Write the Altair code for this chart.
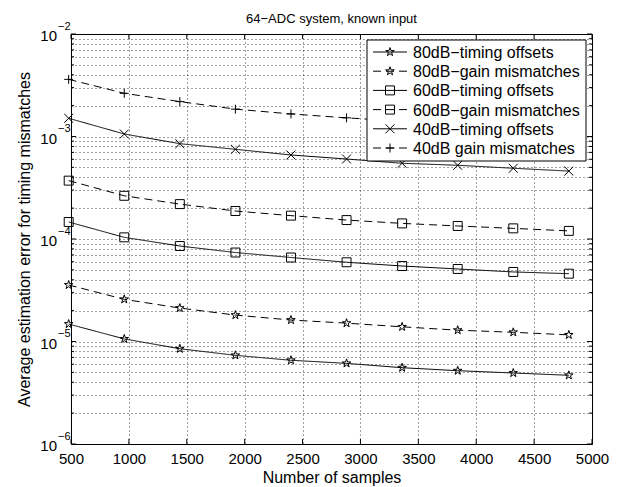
import altair as alt
import pandas as pd

# ---------------- data ----------------
x_samples = [480, 960, 1440, 1920, 2400, 2880, 3360, 3840, 4320, 4800]

names = [
    "80dB\u2212timing offsets",
    "80dB\u2212gain mismatches",
    "60dB\u2212timing offsets",
    "60dB\u2212gain mismatches",
    "40dB\u2212timing offsets",
    "40dB gain mismatches",
]

t80 = [1.48e-5, 1.06e-5, 8.5e-6, 7.33e-6, 6.56e-6, 6.12e-6, 5.55e-6, 5.19e-6, 4.93e-6, 4.68e-6]
g80 = [3.56e-5, 2.58e-5, 2.12e-5, 1.81e-5, 1.62e-5, 1.51e-5, 1.39e-5, 1.29e-5, 1.23e-5, 1.16e-5]
t60 = [1.465e-4, 1.038e-4, 8.54e-5, 7.38e-5, 6.6e-5, 5.93e-5, 5.45e-5, 5.1e-5, 4.77e-5, 4.59e-5]
g60 = [3.71e-4, 2.64e-4, 2.19e-4, 1.875e-4, 1.69e-4, 1.53e-4, 1.42e-4, 1.34e-4, 1.27e-4, 1.20e-4]
t40 = [1.506e-3, 1.058e-3, 8.51e-4, 7.5e-4, 6.6e-4, 6.03e-4, 5.48e-4, 5.24e-4, 4.9e-4, 4.6e-4]
g40 = [3.61e-3, 2.64e-3, 2.19e-3, 1.85e-3, 1.66e-3, 1.52e-3, 1.41e-3, 1.32e-3, 1.25e-3, 1.19e-3]
series_values = [t80, g80, t60, g60, t40, g40]

x_ticks = [500, 1000, 1500, 2000, 2500, 3000, 3500, 4000, 4500, 5000]
y_decades = [1e-6, 1e-5, 1e-4, 1e-3, 1e-2]
y_exponents = ["\u22126", "\u22125", "\u22124", "\u22123", "\u22122"]
y_minor = [m * d for d in [1e-6, 1e-5, 1e-4, 1e-3] for m in range(2, 10)]
y_grid = sorted(y_decades + y_minor)

title_text = "64\u2212ADC system, known input"
x_title = "Number of samples"
y_title = "Average estimation error for timing mismatches"

# ---------------- styling ----------------
FONT = "Liberation Sans"
STAR = ("M0,-1L0.2245,-0.309L0.951,-0.309L0.363,0.118L0.588,0.809L0,0.382"
        "L-0.588,0.809L-0.363,0.118L-0.951,-0.309L-0.2245,-0.309Z")
XMARK = "M-1,-1L1,1M-1,1L1,-1"
PLUS = "M-1,0L1,0M0,-1L0,1"
dash_range = [[1, 0], [8, 5], [1, 0], [8, 5], [1, 0], [8, 5]]
shape_range = [STAR, STAR, "square", "square", XMARK, PLUS]
size_range = [80, 80, 42, 42, 30, 70]

rows = []
for nm, vals in zip(names, series_values):
    for xi, v in zip(x_samples, vals):
        rows.append({"series": nm, "n": xi, "err": v})
df = pd.DataFrame(rows)

W, H = 521, 410
xscale = alt.Scale(domain=[500, 5000], nice=False, zero=False)
yscale = alt.Scale(type="log", domain=[1e-6, 1e-2], nice=False)

dash_enc = alt.StrokeDash("series:N", scale=alt.Scale(domain=names, range=dash_range), legend=None)
shape_enc = alt.Shape("series:N", scale=alt.Scale(domain=names, range=shape_range), legend=None)
size_enc = alt.Size("series:N", scale=alt.Scale(domain=names, range=size_range), legend=None)

X_AXIS = alt.X(
    "n:Q", scale=xscale,
    axis=alt.Axis(
        values=x_ticks, title=x_title, grid=True, gridDash=[1, 3], gridColor="#000000",
        gridOpacity=0.75, ticks=False, domain=False, labelFontSize=15, labelFont=FONT,
        labelColor="black", labelPadding=7, titleFont=FONT, titleFontSize=16,
        titleFontWeight="normal", titleColor="black", titleY=38, titleBaseline="alphabetic",
        labelFlush=False, labelOverlap=False, format="d",
    ),
)
Y_AXIS = alt.Y(
    "err:Q", scale=yscale,
    axis=alt.Axis(
        values=y_grid, title=y_title, grid=True, gridDash=[1, 3], gridColor="#000000",
        gridOpacity=0.75, ticks=False, labels=False, domain=False, titleFont=FONT,
        titleFontSize=16, titleFontWeight="normal", titleColor="black",
        titleX=-42, titleY=H / 2, titleAlign="center", titleBaseline="alphabetic",
    ),
)
Y_NOAXIS = alt.Y("err:Q", scale=yscale, axis=None)

lines = alt.Chart(df).mark_line(color="black", strokeWidth=1).encode(
    x=X_AXIS, y=Y_AXIS, strokeDash=dash_enc, detail="series:N"
)
points = alt.Chart(df).mark_point(filled=False, color="black", strokeWidth=1, opacity=1).encode(
    x=X_AXIS, y=Y_NOAXIS, shape=shape_enc, size=size_enc
)

# inner ticks (MATLAB box style)
xt = pd.DataFrame({"n": x_ticks})
xt_bottom = alt.Chart(xt).mark_rule(color="black").encode(x=X_AXIS, y=alt.value(H), y2=alt.value(H - 5))
xt_top = alt.Chart(xt).mark_rule(color="black").encode(x=X_AXIS, y=alt.value(0), y2=alt.value(5))
yd = pd.DataFrame({"err": y_decades, "exp": y_exponents, "base": ["10"] * len(y_decades)})
ym = pd.DataFrame({"err": y_minor})
yt_left = alt.Chart(yd).mark_rule(color="black").encode(y=Y_NOAXIS, x=alt.value(0), x2=alt.value(5))
yt_right = alt.Chart(yd).mark_rule(color="black").encode(y=Y_NOAXIS, x=alt.value(W), x2=alt.value(W - 5))
ym_left = alt.Chart(ym).mark_rule(color="black").encode(y=Y_NOAXIS, x=alt.value(0), x2=alt.value(3))
ym_right = alt.Chart(ym).mark_rule(color="black").encode(y=Y_NOAXIS, x=alt.value(W), x2=alt.value(W - 3))

# y tick labels 10^k
ylab_base = alt.Chart(yd).mark_text(align="right", baseline="middle", fontSize=15, font=FONT,
                                    color="black", dy=2).encode(
    y=Y_NOAXIS, x=alt.value(-14), text="base:N")
ylab_exp = alt.Chart(yd).mark_text(align="left", baseline="middle", fontSize=11, font=FONT,
                                   color="black", dy=-7.5).encode(
    y=Y_NOAXIS, x=alt.value(-13), text="exp:N")

# title as a text mark above the axes
title_df = pd.DataFrame({"t": [title_text]})
title_mark = alt.Chart(title_df).mark_text(
    align="center", baseline="alphabetic", fontSize=13, font=FONT, color="black"
).encode(x=alt.value(W / 2), y=alt.value(-11), text="t:N")

# legend (drawn inside the axes, like MATLAB)
leg = pd.DataFrame({"series": names, "row": list(range(len(names)))})
leg_y = alt.Y("row:Q", scale=alt.Scale(domain=[0, 5], range=[18, 114]), axis=None)
leg_box = alt.Chart(pd.DataFrame({"a": [0]})).mark_rect(
    fill="white", stroke="black", strokeWidth=1
).encode(x=alt.value(296), x2=alt.value(515), y=alt.value(6), y2=alt.value(127))
leg_line = alt.Chart(leg).mark_rule(color="black", strokeWidth=1).encode(
    y=leg_y, x=alt.value(302), x2=alt.value(336), strokeDash=dash_enc)
leg_pt = alt.Chart(leg).mark_point(filled=False, color="black", strokeWidth=1, opacity=1).encode(
    y=leg_y, x=alt.value(319), shape=shape_enc, size=size_enc)
leg_txt = alt.Chart(leg).mark_text(align="left", baseline="middle", fontSize=16, font=FONT,
                                   color="black", dy=1).encode(
    y=leg_y, x=alt.value(342), text="series:N")

chart = alt.layer(
    lines, points, xt_bottom, xt_top, yt_left, yt_right, ym_left, ym_right,
    ylab_base, ylab_exp, title_mark, leg_box, leg_line, leg_pt, leg_txt,
).resolve_scale(y="independent").properties(
    width=W, height=H,
    padding={"left": 71, "top": 34, "right": 33, "bottom": 43},
    autosize=alt.AutoSizeParams(type="none"),
    background="white",
).configure_view(stroke="black", strokeWidth=1)

chart.save("out.html", embed_options={"renderer": "svg", "actions": False})
